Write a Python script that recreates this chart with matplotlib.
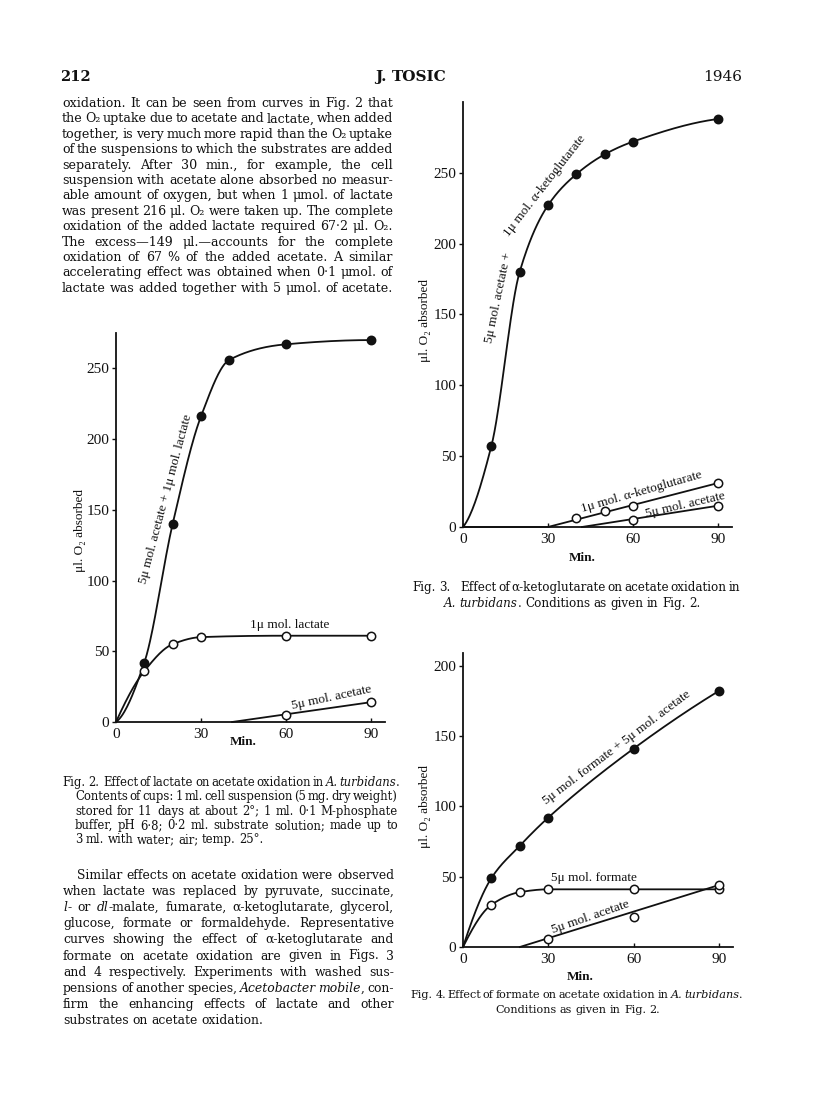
import numpy as np
import matplotlib
matplotlib.use("Agg")
import matplotlib.pyplot as plt

# ---------------- data ----------------
# Fig. 2  (lactate on acetate oxidation)
f2_t = [10, 20, 30, 40, 60, 90]
f2_mix = [42, 140, 216, 256, 267, 270]
f2_lact_t = [10, 20, 30, 60, 90]
f2_lact = [36, 55, 60, 61, 61]
f2_acet_t = [60, 90]
f2_acet = [5, 14]
f2_acet_start = 41

# Fig. 3  (alpha-ketoglutarate)
f3_t = [10, 20, 30, 40, 50, 60, 90]
f3_mix = [57, 180, 227, 249, 263, 272, 288]
f3_keto_t = [40, 50, 60, 90]
f3_keto = [6, 11, 15, 31]
f3_keto_start = 30
f3_acet_t = [60, 90]
f3_acet = [5, 15]
f3_acet_start = 42

# Fig. 4  (formate)
f4_t = [10, 20, 30, 60, 90]
f4_mix = [49, 72, 92, 141, 182]
f4_form_t = [10, 20, 30, 60, 90]
f4_form = [30, 39, 41, 41, 41]
f4_acet_t = [30, 60, 90]
f4_acet = [6, 21, 44]
f4_acet_start = 20

x_ticks = [0, 30, 60, 90]

para1 = [
    "oxidation. It can be seen from curves in Fig. 2 that",
    "the O₂ uptake due to acetate and lactate, when added",
    "together, is very much more rapid than the O₂ uptake",
    "of the suspensions to which the substrates are added",
    "separately. After 30 min., for example, the cell",
    "suspension with acetate alone absorbed no measur-",
    "able amount of oxygen, but when 1 μmol. of lactate",
    "was present 216 μl. O₂ were taken up. The complete",
    "oxidation of the added lactate required 67·2 μl. O₂.",
    "The excess—149 μl.—accounts for the complete",
    "oxidation of 67 % of the added acetate. A similar",
    "accelerating effect was obtained when 0·1 μmol. of",
    "lactate was added together with 5 μmol. of acetate.",
]
cap2 = [
    "Contents of cups: 1 ml. cell suspension (5 mg. dry weight)",
    "stored for 11 days at about 2°; 1 ml. 0·1 M-phosphate",
    "buffer, pH 6·8; 0·2 ml. substrate solution; made up to",
    "3 ml. with water; air; temp. 25°.",
]
para2 = [
    "Similar effects on acetate oxidation were observed",
    "when lactate was replaced by pyruvate, succinate,",
    "*l*- or *dl*-malate, fumarate, α-ketoglutarate, glycerol,",
    "glucose, formate or formaldehyde. Representative",
    "curves showing the effect of α-ketoglutarate and",
    "formate on acetate oxidation are given in Figs. 3",
    "and 4 respectively. Experiments with washed sus-",
    "pensions of another species, *Acetobacter* *mobile*, con-",
    "firm the enhancing effects of lactate and other",
    "substrates on acetate oxidation.",
]

# ---------------- page setup ----------------
W, H = 816, 1113
fig = plt.figure(figsize=(W / 100, H / 100), dpi=100)
fig.patch.set_facecolor("white")
R = fig.canvas.get_renderer()
TXT = ["DejaVu Serif"]
PLT = ["Liberation Serif", "DejaVu Serif"]
INK = "#111111"


def fx(x):
    return x / W


def fy(y):
    return 1 - y / H


def segs(word):
    parts = word.split("*")
    return [(p, "italic" if i % 2 else "normal") for i, p in enumerate(parts) if p]


def seg_width(s, st, size, weight="normal"):
    t = fig.text(0, 0, s, fontsize=size, family=TXT, style=st, weight=weight)
    w = t.get_window_extent(R).width
    t.remove()
    return w


def word_width(word, size, weight="normal"):
    return sum(seg_width(s, st, size, weight) for s, st in segs(word))


def draw_word(word, x, y, size, weight="normal"):
    for s, st in segs(word):
        fig.text(fx(x), fy(y), s, fontsize=size, family=TXT, style=st,
                 weight=weight, va="baseline", ha="left", color=INK)
        x += seg_width(s, st, size, weight)


def fit_size(line, x0, x1, size, min_space):
    words = line.split()
    if len(words) < 2:
        return size
    need = sum(word_width(w, size) for w in words) + min_space * size * 100 / 72 * (len(words) - 1)
    return size * min(1.0, (x1 - x0) / need)


def text_line(line, x0, x1, y, size, justify=True, align="left", weight="normal"):
    words = line.split()
    widths = [word_width(w, size, weight) for w in words]
    if justify and len(words) > 1:
        gap = (x1 - x0 - sum(widths)) / (len(words) - 1)
        x = x0
    else:
        gap = 0.3 * size * 100 / 72
        natural = sum(widths) + gap * (len(words) - 1)
        x = (x0 + x1) / 2 - natural / 2 if align == "center" else x0
    for w, wd in zip(words, widths):
        draw_word(w, x, y, size, weight)
        x += wd + gap


def text_block(specs, size, min_space=0.2):
    # specs: (line, x0, x1, baseline, justify, align)
    size = min(fit_size(s[0], s[1], s[2], size, min_space) for s in specs if s[4])
    for line, x0, x1, y, just, align in specs:
        text_line(line, x0, x1, y, size, justify=just, align=align)


def pchip(x, y, n=300):
    x = np.asarray(x, float)
    y = np.asarray(y, float)
    h = np.diff(x)
    d = np.diff(y) / h
    m = np.zeros_like(y)
    for k in range(1, len(x) - 1):
        if d[k - 1] * d[k] > 0:
            w1 = 2 * h[k] + h[k - 1]
            w2 = h[k] + 2 * h[k - 1]
            m[k] = (w1 + w2) / (w1 / d[k - 1] + w2 / d[k])
    def end(h0, h1, d0, d1):
        s = ((2 * h0 + h1) * d0 - h0 * d1) / (h0 + h1)
        if np.sign(s) != np.sign(d0):
            return 0.0
        if np.sign(d0) != np.sign(d1) and abs(s) > abs(3 * d0):
            return 3 * d0
        return s
    m[0] = end(h[0], h[1], d[0], d[1])
    m[-1] = end(h[-1], h[-2], d[-1], d[-2])
    xs = np.linspace(x[0], x[-1], n)
    k = np.clip(np.searchsorted(x, xs) - 1, 0, len(h) - 1)
    t = (xs - x[k]) / h[k]
    h00 = 2 * t**3 - 3 * t**2 + 1
    h10 = t**3 - 2 * t**2 + t
    h01 = -2 * t**3 + 3 * t**2
    h11 = t**3 - t**2
    ys = h00 * y[k] + h10 * h[k] * m[k] + h01 * y[k + 1] + h11 * h[k] * m[k + 1]
    return xs, ys


def make_axes(left, right, bottom, top, xmax, ymax, yticks):
    ax = fig.add_axes([fx(left), fy(bottom), (right - left) / W, (bottom - top) / H])
    ax.set_xlim(0, xmax)
    ax.set_ylim(0, ymax)
    ax.patch.set_alpha(0)
    for s in ("top", "right"):
        ax.spines[s].set_visible(False)
    for s in ("left", "bottom"):
        ax.spines[s].set_linewidth(1.3)
        ax.spines[s].set_color(INK)
    ax.set_xticks(x_ticks)
    ax.set_yticks(yticks)
    ax.tick_params(axis="x", direction="in", length=3, width=1, pad=4, labelsize=11, colors=INK)
    ax.tick_params(axis="y", direction="out", length=3, width=1, pad=2, labelsize=11, colors=INK)
    for lab in ax.get_xticklabels() + ax.get_yticklabels():
        lab.set_family(PLT)
    return ax


def smooth(ax, x, y):
    xs, ys = pchip(x, y)
    ax.plot(xs, ys, color=INK, lw=1.3, clip_on=False, zorder=2)


def straight(ax, x, y):
    ax.plot(x, y, color=INK, lw=1.3, clip_on=False, zorder=2)


def dots(ax, x, y, filled):
    ax.plot(x, y, "o", ms=6, mew=1.1, mec=INK, mfc=INK if filled else "white",
            clip_on=False, zorder=3)


def label(ax, x, y, s, rot=0, size=9.5):
    ax.text(x, y, s, rotation=rot, rotation_mode="anchor", ha="center", va="center",
            fontsize=size, family=PLT, color=INK)


# ---------------- header ----------------
text_line("212", 60, 60, 81, 10.5, justify=False, weight="bold")
text_line("J. TOSIC", 366, 456, 81, 11, justify=False, align="center", weight="bold")
fig.text(fx(742), fy(81), "1946", fontsize=11, family=TXT, ha="right", va="baseline", color=INK)

# ---------------- paragraph 1 ----------------
text_block([(ln, 62, 393, 107 + i * 15.4, True, "left") for i, ln in enumerate(para1)], 9.9)

# ---------------- Fig. 2 ----------------
ax2 = make_axes(116, 385, 722, 333, 95, 275, [0, 50, 100, 150, 200, 250])
smooth(ax2, [0] + f2_t, [0] + f2_mix)
smooth(ax2, [0] + f2_lact_t, [0] + f2_lact)
straight(ax2, [f2_acet_start, f2_acet_t[-1]], [0, f2_acet[-1]])
dots(ax2, f2_t, f2_mix, True)
dots(ax2, f2_lact_t, f2_lact, False)
dots(ax2, f2_acet_t, f2_acet, False)
label(ax2, 17.5, 158, "5μ mol. acetate + 1μ mol. lactate", rot=75)
label(ax2, 61.5, 68.5, "1μ mol. lactate")
label(ax2, 76, 17, "5μ mol. acetate", rot=12)
fig.text(fx(80), fy(531), "μl. O₂ absorbed", rotation=90, ha="center", va="center",
         fontsize=9.5, family=PLT, color=INK)
fig.text(fx(243), fy(742), "Min.", ha="center", va="center", fontsize=9.5,
         family=PLT, weight="bold", color=INK)

cap2_specs = [("Fig. 2.", 62, 62, 786, False, "left"),
              ("Effect of lactate on acetate oxidation in *A.* *turbidans*.", 103, 400, 786, True, "left")]
cap2_specs += [(ln, 75, 398, 800.3 + i * 14.3, i < len(cap2) - 1, "left") for i, ln in enumerate(cap2)]
text_block(cap2_specs, 8.7, min_space=0.15)

# ---------------- paragraph 2 ----------------
text_block([(ln, 77 if i == 0 else 63, 394, 879 + i * 16.1, i < len(para2) - 1, "left")
            for i, ln in enumerate(para2)], 9.9)

# ---------------- Fig. 3 ----------------
ax3 = make_axes(463, 732, 527, 102, 95, 300, [0, 50, 100, 150, 200, 250])
smooth(ax3, [0] + f3_t, [0] + f3_mix)
straight(ax3, [0, f3_keto_start, f3_keto_t[-1]], [0, 0, f3_keto[-1]])
straight(ax3, [f3_acet_start, f3_acet_t[-1]], [0, f3_acet[-1]])
dots(ax3, f3_t, f3_mix, True)
dots(ax3, f3_keto_t, f3_keto, False)
dots(ax3, f3_acet_t, f3_acet, False)
label(ax3, 12.5, 162, "5μ mol. acetate +", rot=78)
label(ax3, 29, 241, "1μ mol. α-ketoglutarate", rot=52)
label(ax3, 63, 25, "1μ mol. α-ketoglutarate", rot=16)
label(ax3, 78.5, 15.5, "5μ mol. acetate", rot=13)
fig.text(fx(425), fy(320), "μl. O₂ absorbed", rotation=90, ha="center", va="center",
         fontsize=9.5, family=PLT, color=INK)
fig.text(fx(582), fy(558), "Min.", ha="center", va="center", fontsize=9.5,
         family=PLT, weight="bold", color=INK)

text_block([("Fig. 3.", 412, 412, 591, False, "left"),
            ("Effect of α-ketoglutarate on acetate oxidation in", 460, 740, 591, True, "left"),
            ("*A.* *turbidans*. Conditions as given in Fig. 2.", 467, 677, 607, False, "center")],
           8.7, min_space=0.15)

# ---------------- Fig. 4 ----------------
ax4 = make_axes(463, 733, 947, 653, 95, 209, [0, 50, 100, 150, 200])
smooth(ax4, [0] + f4_t, [0] + f4_mix)
smooth(ax4, [0] + f4_form_t, [0] + f4_form)
straight(ax4, [f4_acet_start, f4_acet_t[-1]], [0, f4_acet[-1]])
dots(ax4, f4_t, f4_mix, True)
dots(ax4, f4_form_t, f4_form, False)
dots(ax4, f4_acet_t, f4_acet, False)
label(ax4, 54, 142, "5μ mol. formate + 5μ mol. acetate", rot=37)
label(ax4, 46, 49, "5μ mol. formate")
label(ax4, 45, 21, "5μ mol. acetate", rot=19)
fig.text(fx(425), fy(807), "μl. O₂ absorbed", rotation=90, ha="center", va="center",
         fontsize=9.5, family=PLT, color=INK)
fig.text(fx(580), fy(977), "Min.", ha="center", va="center", fontsize=9.5,
         family=PLT, weight="bold", color=INK)

text_block([("Fig. 4.", 410, 410, 998, False, "left"),
            ("Effect of formate on acetate oxidation in *A.* *turbidans*.", 447, 743, 998, True, "left"),
            ("Conditions as given in Fig. 2.", 505, 650, 1013, False, "center")],
           8.7, min_space=0.15)

fig.savefig("out.png", dpi=100, facecolor="white")
